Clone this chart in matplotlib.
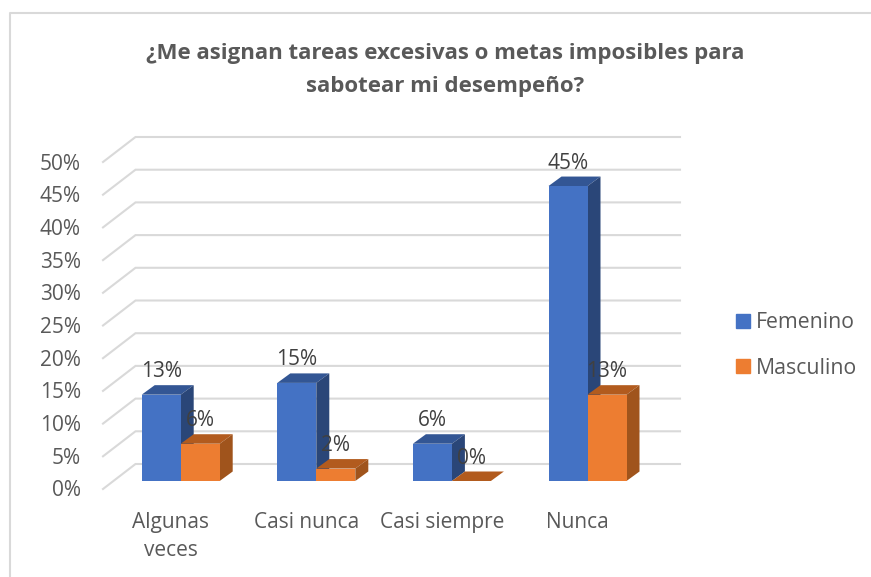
import matplotlib
matplotlib.use('Agg')
import matplotlib.pyplot as plt
from matplotlib.patches import Patch
from matplotlib.lines import Line2D

# Data
categories = ['Algunas\nveces', 'Casi nunca', 'Casi siempre', 'Nunca']
femenino = [13.2, 15.0, 5.7, 45.1]
masculino = [5.7, 1.9, 0.0, 13.2]
fem_labels = ['13%', '15%', '6%', '45%']
mas_labels = ['6%', '2%', '0%', '13%']
ticks = [0, 5, 10, 15, 20, 25, 30, 35, 40, 45, 50]

plt.rcParams['font.family'] = ['Open Sans', 'DejaVu Sans']
text_color = '#404040'
soft_color = '#595959'
grid_color = '#D9D9D9'

W, H = 871, 577
fig = plt.figure(figsize=(W / 100, H / 100), dpi=100)
ax = fig.add_axes([0, 0, 1, 1])
ax.axis('off')

# Scale: one category = 135.6 px, one percent = 6.54 px
ux = 135.6
uy = 6.54
ax.set_xlim(-180.7 / ux, (W - 180.7) / ux)
ax.set_ylim((481 - H) / uy, 481 / uy)

# Pseudo 3D depth
bar_w = 39 / ux
dx = 13 / ux
dy = 9.5 / uy

# Walls and gridlines
wall_left = 135.5 / ux - 180.7 / ux
wall_right = 680 / ux - 180.7 / ux
front_x = 103 / ux - 180.7 / ux
back_y = 17 / uy
front_y = -8 / uy
for t in ticks:
    ax.plot([front_x, wall_left, wall_right], [t + front_y, t + back_y, t + back_y],
            color=grid_color, lw=1.5, zorder=1, solid_joinstyle='miter')
    ax.text(81 / ux - 180.7 / ux, t + front_y - 2 / uy, f'{t}%', ha='right', va='center',
            fontsize=15, color=soft_color)


def draw_bar(x0, h, front, top, side, z):
    ax.fill([x0, x0 + bar_w, x0 + bar_w + dx, x0 + dx], [h, h, h + dy, h + dy], color=top, lw=0, zorder=z)
    ax.fill([x0 + bar_w, x0 + bar_w + dx, x0 + bar_w + dx, x0 + bar_w], [0, dy, h + dy, h], color=side, lw=0, zorder=z)
    ax.bar(x0, h, width=bar_w, align='edge', color=front, lw=0, zorder=z + 0.1)


for i in range(len(categories)):
    draw_bar(i - bar_w, femenino[i], '#4472C4', '#335694', '#2A4678', 3 + i)
    draw_bar(i, masculino[i], '#ED7D31', '#B25B1E', '#A0541C', 3.5 + i)
    ax.annotate(fem_labels[i], (i - bar_w / 2, femenino[i]), xytext=(0, 16.5), textcoords='offset points',
                ha='center', va='center', fontsize=15, color=text_color, zorder=20)
    ax.annotate(mas_labels[i], (i + bar_w / 2, masculino[i]), xytext=(0, 16.5), textcoords='offset points',
                ha='center', va='center', fontsize=15, color=text_color, zorder=20)
    ax.text(i - 10 / ux, -31 / uy, categories[i], ha='center', va='top', fontsize=15,
            color=soft_color, linespacing=1.45)

# Title
fig.text(445.5 / W, 1 - 70 / H, '¿Me asignan tareas excesivas o metas imposibles para\nsabotear mi desempeño?',
         ha='center', va='center', fontsize=16, fontweight='bold', color=soft_color, linespacing=1.7)

# Legend
handles = [Patch(color='#4472C4', label='Femenino'), Patch(color='#ED7D31', label='Masculino')]
ax.legend(handles=handles, loc='center left', bbox_to_anchor=(736 / W, 1 - 345.5 / H), frameon=False,
          fontsize=15.3, labelcolor=soft_color, handlelength=0.65, handleheight=0.65,
          handletextpad=0.3, labelspacing=1.13, borderaxespad=0, borderpad=0)

# Chart border, only top and left show in the crop
fig.add_artist(Line2D([9.5 / W, 9.5 / W, 1], [0, 1 - 12.5 / H, 1 - 12.5 / H],
                      transform=fig.transFigure, color=grid_color, lw=1.5))

fig.savefig('out.png', dpi=100)
